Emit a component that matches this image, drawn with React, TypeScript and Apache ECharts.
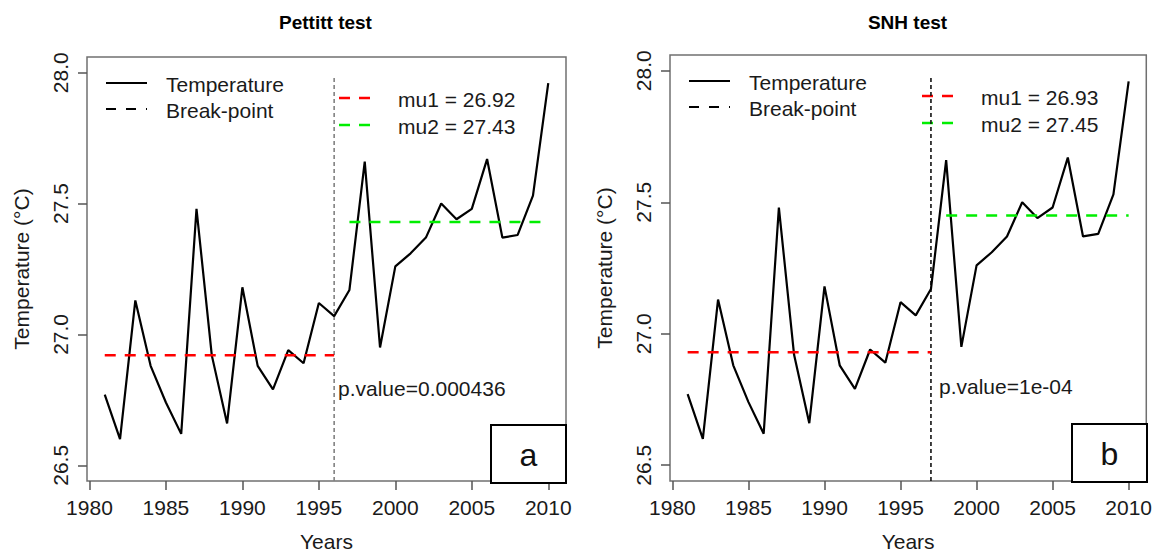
import React, { useEffect, useRef } from "react";
import * as echarts from "echarts";

// ---- data ----
const years = [
  1981, 1982, 1983, 1984, 1985, 1986, 1987, 1988, 1989, 1990,
  1991, 1992, 1993, 1994, 1995, 1996, 1997, 1998, 1999, 2000,
  2001, 2002, 2003, 2004, 2005, 2006, 2007, 2008, 2009, 2010,
];
const temperature = [
  26.77, 26.6, 27.13, 26.88, 26.74, 26.62, 27.48, 26.92, 26.66, 27.18,
  26.88, 26.79, 26.94, 26.89, 27.12, 27.07, 27.17, 27.66, 26.95, 27.26,
  27.31, 27.37, 27.5, 27.44, 27.48, 27.67, 27.37, 27.38, 27.53, 27.96,
];
const xTicks = [1980, 1985, 1990, 1995, 2000, 2005, 2010];
const yTicks = [26.5, 27.0, 27.5, 28.0];
const testNames = ["Pettitt test", "SNH test"];
const breakYears = [1996, 1997];
const mu1Values = [26.92, 26.93];
const mu2Values = [27.43, 27.45];
const pValues = ["0.000436", "1e-04"];
const panelTags = ["a", "b"];
const breakTop = 27.98;

// ---- layout ----
const FONT = "'Liberation Sans', Arial, sans-serif";
const TXT = "#1a1a1a";
const grids = [
  { left: 87, top: 57, width: 479, height: 426 },
  { left: 670, top: 55, width: 477, height: 427 },
];
const breakColors = ["#808080", "#111111"];
const breakDash = [[4, 3], [4, 3]];

function panelGraphics(i: number) {
  const g = grids[i];
  const dx = g.left - grids[0].left;
  const dy = i === 0 ? 0 : -2;
  const els: any[] = [];
  const t = (text: string, x: number, y: number, extra: any = {}) => ({
    type: "text",
    style: {
      text, x, y, fill: TXT, textVerticalAlign: "middle",
      font: `21px ${FONT}`, ...extra,
    },
  });
  const l = (x1: number, y1: number, x2: number, y2: number, stroke: string, dash?: number[], w = 2) => ({
    type: "line",
    shape: { x1, y1, x2, y2 },
    style: { stroke, lineWidth: w, lineDash: dash },
  });
  // title
  els.push(t(testNames[i], g.left + g.width / 2 - 1, 22, { textAlign: "center", font: `bold 19px ${FONT}`, fill: "#000" }));
  // legend 1
  els.push(l(106 + dx, 83 + dy, 147 + dx, 83 + dy, "#000"));
  els.push(l(106 + dx, 109 + dy, 147 + dx, 109 + dy, "#000", [10, 10]));
  els.push(t("Temperature", 166 + dx, 84 + dy));
  els.push(t("Break-point", 166 + dx, 110 + dy));
  // legend 2
  els.push(l(339 + dx, 98 + dy, 370 + dx, 98 + dy, "#ff0000", [11, 9], 2.5));
  els.push(l(339 + dx, 125 + dy, 370 + dx, 125 + dy, "#00ee00", [11, 9], 2.5));
  els.push(t(`mu1 = ${mu1Values[i].toFixed(2)}`, 398 + dx, 99 + dy));
  els.push(t(`mu2 = ${mu2Values[i].toFixed(2)}`, 398 + dx, 126 + dy));
  // p value
  els.push(t(`p.value=${pValues[i]}`, (i === 0 ? 338 : 939), 388 + dy));
  // tag box
  const bx = g.left + g.width - 75;
  const by = g.top + g.height - 58;
  els.push({
    type: "rect",
    shape: { x: bx, y: by, width: 75, height: 58 },
    style: { fill: "#fff", stroke: "#000", lineWidth: 2 },
    z: 10,
  });
  els.push({ ...t(panelTags[i], bx + 37.5, by + 30, { textAlign: "center", font: `32px ${FONT}`, fill: "#111" }), z: 11 });
  return els;
}

function buildOption() {
  const xAxis: any[] = [];
  const yAxis: any[] = [];
  const series: any[] = [];
  grids.forEach((_, i) => {
    xAxis.push({
      gridIndex: i, type: "value", min: 1979.84, max: 2011.16,
      axisLine: { show: false }, splitLine: { show: false },
      axisTick: { show: true, length: 9, customValues: xTicks, lineStyle: { color: "#555", width: 1.5 } },
      axisLabel: { customValues: xTicks, margin: 16, fontSize: 21, color: TXT, fontFamily: FONT, formatter: (v: number) => String(v) },
      name: "Years", nameLocation: "middle", nameGap: 50,
      nameTextStyle: { fontSize: 21, color: TXT, fontFamily: FONT },
    });
    yAxis.push({
      gridIndex: i, type: "value", min: 26.44, max: 28.06,
      axisLine: { show: false }, splitLine: { show: false },
      axisTick: { show: true, length: 9, customValues: yTicks, lineStyle: { color: "#555", width: 1.5 } },
      axisLabel: { customValues: yTicks, rotate: 90, margin: 16, fontSize: 21, color: TXT, fontFamily: FONT, formatter: (v: number) => v.toFixed(1) },
      name: "Temperature (°C)", nameLocation: "middle", nameGap: 55,
      nameTextStyle: { fontSize: 21, color: TXT, fontFamily: FONT },
    });
    const b = breakYears[i];
    series.push({
      type: "line", xAxisIndex: i, yAxisIndex: i, name: "Temperature",
      data: years.map((y, k) => [y, temperature[k]]),
      symbol: "none", lineStyle: { color: "#000", width: 2.2 }, z: 3,
    });
    series.push({
      type: "line", xAxisIndex: i, yAxisIndex: i, name: "Break-point",
      data: [[b, 26.44], [b, breakTop]],
      symbol: "none", lineStyle: { color: breakColors[i], width: 1.6, type: breakDash[i] }, z: 2,
    });
    series.push({
      type: "line", xAxisIndex: i, yAxisIndex: i, name: "mu1",
      data: [[years[0], mu1Values[i]], [b, mu1Values[i]]],
      symbol: "none", lineStyle: { color: "#ff0000", width: 2.5, type: [11, 9] }, z: 4,
    });
    series.push({
      type: "line", xAxisIndex: i, yAxisIndex: i, name: "mu2",
      data: [[b + 1, mu2Values[i]], [years[years.length - 1], mu2Values[i]]],
      symbol: "none", lineStyle: { color: "#00ee00", width: 2.5, type: [11, 9] }, z: 4,
    });
  });
  return {
    animation: false,
    backgroundColor: "#fff",
    textStyle: { fontFamily: FONT },
    grid: grids.map((g) => ({ ...g, show: true, borderColor: "#707070", borderWidth: 1.5, backgroundColor: "transparent" })),
    xAxis, yAxis, series,
    graphic: [...panelGraphics(0), ...panelGraphics(1)],
  };
}

export default function App() {
  const ref = useRef<HTMLDivElement>(null);
  useEffect(() => {
    if (!ref.current) return;
    const chart = echarts.init(ref.current, undefined, { renderer: "svg" });
    chart.setOption(buildOption() as any);
    return () => chart.dispose();
  }, []);
  return (
    <div
      ref={ref}
      style={{ position: "fixed", left: 0, top: 0, width: 1155, height: 557, background: "#fff" }}
    />
  );
}
